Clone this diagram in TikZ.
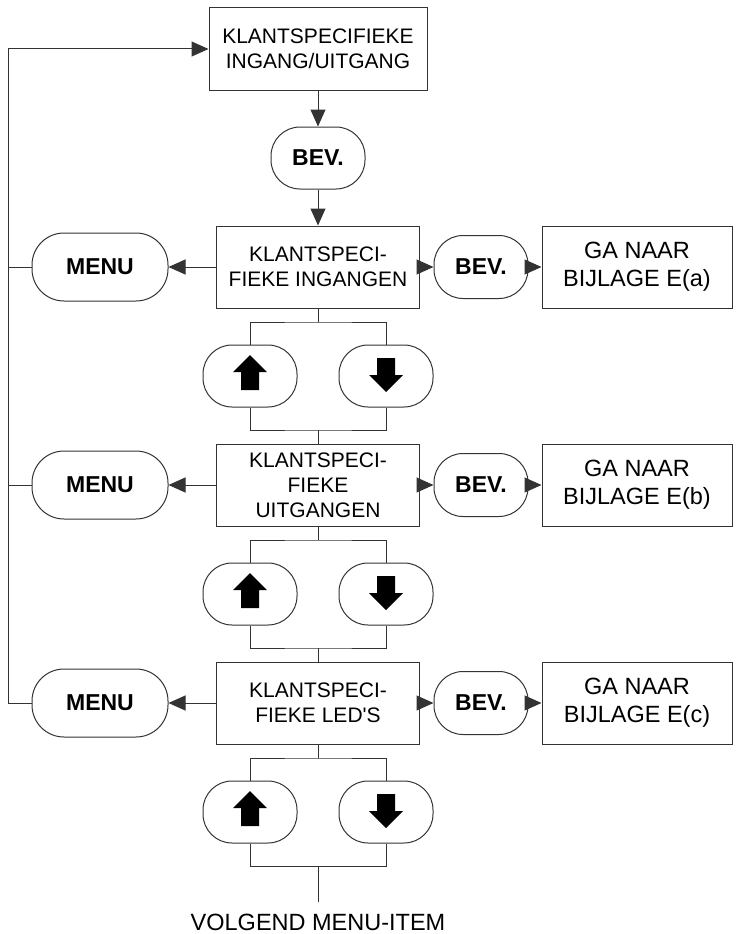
\documentclass[tikz,border=0pt]{standalone}
\usepackage{fontspec}
\setmainfont{Liberation Sans}
\usetikzlibrary{arrows.meta}
\tikzset{
  conn/.style={draw=black!80, line width=1pt},
  arr/.style={conn, -{Triangle[length=17pt,width=15pt]}},
  box/.style={conn, minimum width=203pt, minimum height=82pt, inner sep=0pt,
    align=center, font=\fontsize{21}{25}\selectfont},
  gabox/.style={box, minimum width=190pt, font=\fontsize{23.5}{28}\selectfont},
  btn/.style={conn, rounded corners=29pt, minimum width=94pt, minimum height=62pt,
    inner sep=0pt, font=\fontsize{23}{28}\selectfont\bfseries},
  menubtn/.style={btn, rounded corners=32pt, minimum width=136pt, minimum height=68pt}
}
% block arrows on the keys
\newcommand{\keyup}[1]{\fill[black, shift={(#1)}] (0,-21) -- (17,-4) -- (9,-4) -- (9,14) -- (-9,14) -- (-9,-4) -- (-17,-4) -- cycle;}
\newcommand{\keydown}[1]{\fill[black, shift={(#1)}] (0,16) -- (17,-1) -- (9,-1) -- (9,-18) -- (-9,-18) -- (-9,-1) -- (-17,-1) -- cycle;}
\begin{document}
\begin{tikzpicture}[x=1pt, y=-1pt]
  \useasboundingbox (0,0) rectangle (740,934);
  \node[box, minimum width=218pt] (top) at (318,49) {KLANTSPECIFIEKE\\INGANG/UITGANG};
  \node[btn] (bev) at (318,158) {BEV.};
  \coordinate (ret) at (8,49);

  \foreach \i/\yy/\txt/\sfx in {1/267/{KLANTSPECI-\\FIEKE INGANGEN}/a,
      2/485/{KLANTSPECI-\\FIEKE\\UITGANGEN}/b,
      3/703/{KLANTSPECI-\\FIEKE LED\textquotesingle S}/c}
  {
    \node[box] (k\i) at (318,\yy) {\txt};
    \node[menubtn] (m\i) at (100,\yy) {MENU};
    \node[btn, minimum height=63pt] (b\i) at (481,\yy) {BEV.};
    \node[gabox] (g\i) at (637,\yy) {GA NAAR\\BIJLAGE E(\sfx)};
    \draw[arr] (k\i) -- (m\i);
    \draw[arr] (k\i) -- (b\i);
    \draw[arr] (b\i) -- (g\i);
    % keys below
    \node[btn] (up\i) at (250,\yy+109) {};
    \node[btn] (dn\i) at (386,\yy+109) {};
    \keyup{up\i.center}
    \keydown{dn\i.center}
    \coordinate (s\i) at (318,\yy+55);
    \coordinate (j\i) at (318,\yy+163);
    \draw[conn] (k\i.south) -- (s\i);
    \draw[conn] (up\i.north) |- (s\i) -| (dn\i.north);
    \draw[conn] (up\i.south) |- (j\i) -| (dn\i.south);
  }

  \draw[arr] (top) -- (bev);
  \draw[arr] (bev) -- (k1);
  \draw[conn] (j1) -- (k2.north);
  \draw[conn] (j2) -- (k3.north);

  % return line
  \draw[arr] (m3.west) -| (ret) -- (top.west);
  \draw[conn] (m1.west) -- (m1.west -| ret);
  \draw[conn] (m2.west) -- (m2.west -| ret);

  \coordinate (nx) at (318,902);
  \draw[conn] (j3) -- (nx);
  \node[inner sep=0pt, anchor=north, font=\fontsize{23.5}{28}\selectfont] (next) at (318,914) {VOLGEND MENU-ITEM};
\end{tikzpicture}
\end{document}
